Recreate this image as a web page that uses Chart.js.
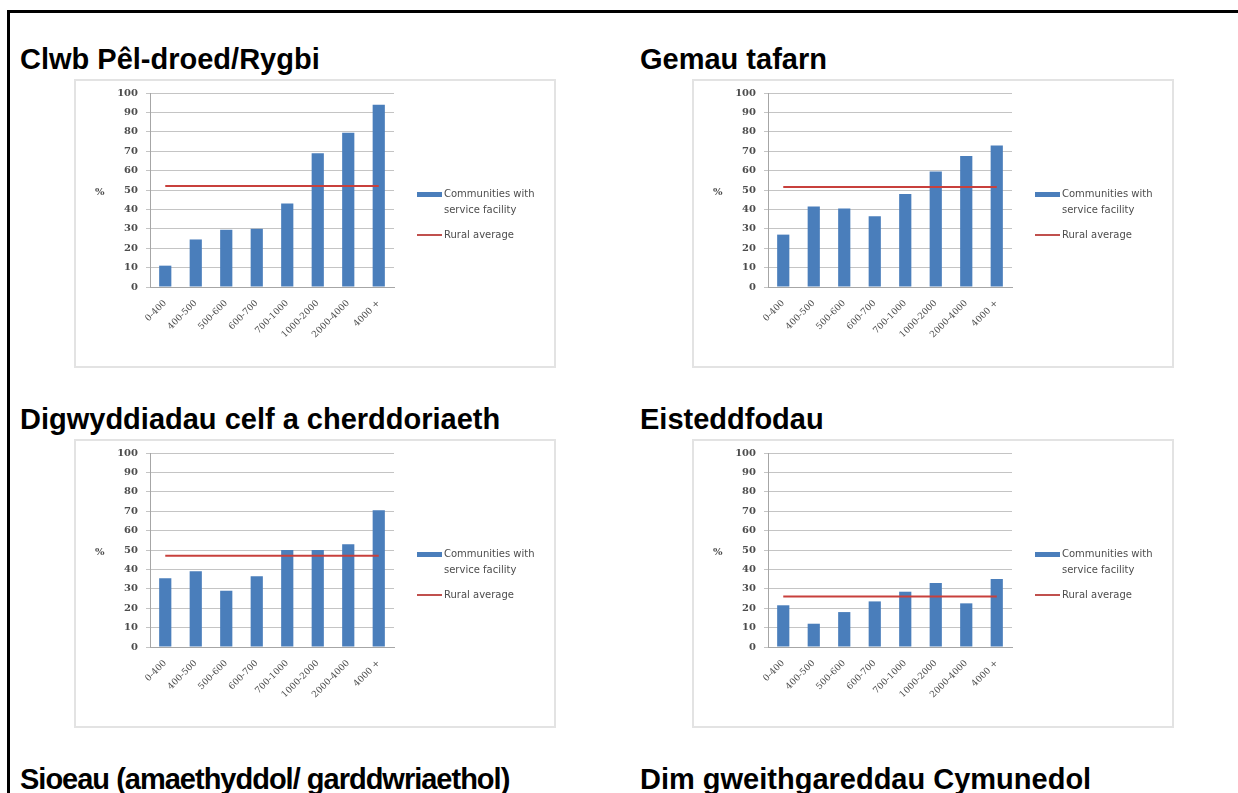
<!DOCTYPE html>
<html>
<head>
<meta charset="utf-8">
<script src="https://cdn.jsdelivr.net/npm/chart.js@4.4.0/dist/chart.umd.min.js"></script>
<style>
    body { margin: 0; width: 1238px; height: 793px; overflow: hidden; background: #fff; position: relative; }
    #frame { position: absolute; left: 7px; top: 10px; width: 1300px; height: 900px; border-left: 3px solid #000; border-top: 3px solid #000; }
    .title { position: absolute; font-family: "Liberation Sans", Arial, sans-serif; font-weight: bold; font-size: 29px; line-height: 29px; color: #000; white-space: nowrap; }
    .box { position: absolute; width: 482px; height: 289px; border: 2px solid #e3e3e3; box-sizing: border-box; background: #fff; }
    .box canvas { position: absolute; left: 0; top: -2px; }
    .pct { position: absolute; left: 19px; top: 105px; font-family: "DejaVu Serif", serif; font-weight: bold; font-size: 10px; color: #4d4d4d; }
    .swatch { position: absolute; left: 341px; width: 25px; }
    .swatch.bar { top: 111px; height: 5px; background: #4a7ebb; }
    .swatch.line { top: 153px; height: 2px; background: #c0504d; }
    .legtext { position: absolute; left: 368px; font-family: "DejaVu Sans", sans-serif; font-size: 10px; line-height: 16px; color: #4d4d4d; white-space: nowrap; }
</style>
</head>
<body>
<div id="frame"></div>
<div id="page"></div>
<script>
// category bands (community population)
const sizeBands = ["0-400", "400-500", "500-600", "600-700", "700-1000", "1000-2000", "2000-4000", "4000 +"];

// % of communities with the service, per band
const clwbValues = [11, 24.5, 29.5, 30, 43, 69, 79.5, 94];
const gemauValues = [27, 41.5, 40.5, 36.5, 48, 59.5, 67.5, 73];
const celfValues = [35.5, 39, 29, 36.5, 50, 50, 53, 70.5];
const eisteddfodValues = [21.5, 12, 18, 23.5, 28.5, 33, 22.5, 35];

// rural average line for each chart
const ruralAverages = [52, 51.5, 47, 26];

const chartTitles = ["Clwb Pêl-droed/Rygbi", "Gemau tafarn", "Digwyddiadau celf a cherddoriaeth", "Eisteddfodau"];
const lowerTitles = ["Sioeau (amaethyddol/ garddwriaethol)", "Dim gweithgareddau Cymunedol"];

const yMin = 0;
const yMax = 100;
const yStep = 10;

document.addEventListener("DOMContentLoaded", () => {
    const page = document.getElementById("page");
    const seriesList = [clwbValues, gemauValues, celfValues, eisteddfodValues];
    const colX = [74, 692];
    const titleX = [20, 640];

    function addTitle(text, left, top, spacing) {
        const t = document.createElement("div");
        t.className = "title";
        t.style.left = left + "px";
        t.style.top = top + "px";
        if (spacing) t.style.letterSpacing = spacing;
        t.textContent = text;
        page.appendChild(t);
    }

    function makeChart(i) {
        const col = i % 2;
        const row = Math.floor(i / 2);
        addTitle(chartTitles[i], titleX[col], 45 + row * 360);

        const box = document.createElement("div");
        box.className = "box";
        box.style.left = colX[col] + "px";
        box.style.top = (79 + row * 360) + "px";
        box.innerHTML = `
            <canvas width="478" height="287"></canvas>
            <div class="pct">%</div>
            <div class="swatch bar"></div>
            <div class="legtext" style="top:105px">Communities with<br>service facility</div>
            <div class="swatch line"></div>
            <div class="legtext" style="top:146px">Rural average</div>
        `;
        page.appendChild(box);

        const avg = ruralAverages[i];
        const ctx = box.querySelector("canvas").getContext("2d");
        new Chart(ctx, {
            type: "bar",
            data: {
                labels: sizeBands,
                datasets: [
                    {
                        type: "line",
                        label: "Rural average",
                        data: sizeBands.map(() => avg),
                        borderColor: "#c8403c",
                        borderWidth: 2,
                        pointRadius: 0,
                        order: 0
                    },
                    {
                        label: "Communities with service facility",
                        data: seriesList[i],
                        backgroundColor: "#4a7ebb",
                        categoryPercentage: 1,
                        barPercentage: 0.4,
                        order: 1
                    }
                ]
            },
            options: {
                responsive: false,
                animation: false,
                layout: { padding: { left: 34, right: 160, top: 10, bottom: 19 } },
                plugins: {
                    legend: { display: false },
                    tooltip: { enabled: false }
                },
                scales: {
                    x: {
                        grid: { display: false },
                        border: { color: "#a6a6a6" },
                        ticks: {
                            minRotation: 45,
                            maxRotation: 45,
                            color: "#4d4d4d",
                            padding: 3,
                            font: { family: "DejaVu Serif", size: 9 }
                        },
                        afterFit: scale => { scale.height = 60; }
                    },
                    y: {
                        min: yMin,
                        max: yMax,
                        grid: { color: "#c4c4c4", tickLength: 4 },
                        border: { color: "#a6a6a6" },
                        ticks: {
                            stepSize: yStep,
                            color: "#4d4d4d",
                            padding: 8,
                            font: { family: "DejaVu Serif", size: 10, weight: "bold" }
                        },
                        afterFit: scale => { scale.width = 40; }
                    }
                }
            }
        });
    }

    for (let i = 0; i < 4; i++) makeChart(i);
    addTitle(lowerTitles[0], titleX[0], 45 + 2 * 360, "-1px");
    addTitle(lowerTitles[1], titleX[1], 45 + 2 * 360);
});
</script>
</body>
</html>
